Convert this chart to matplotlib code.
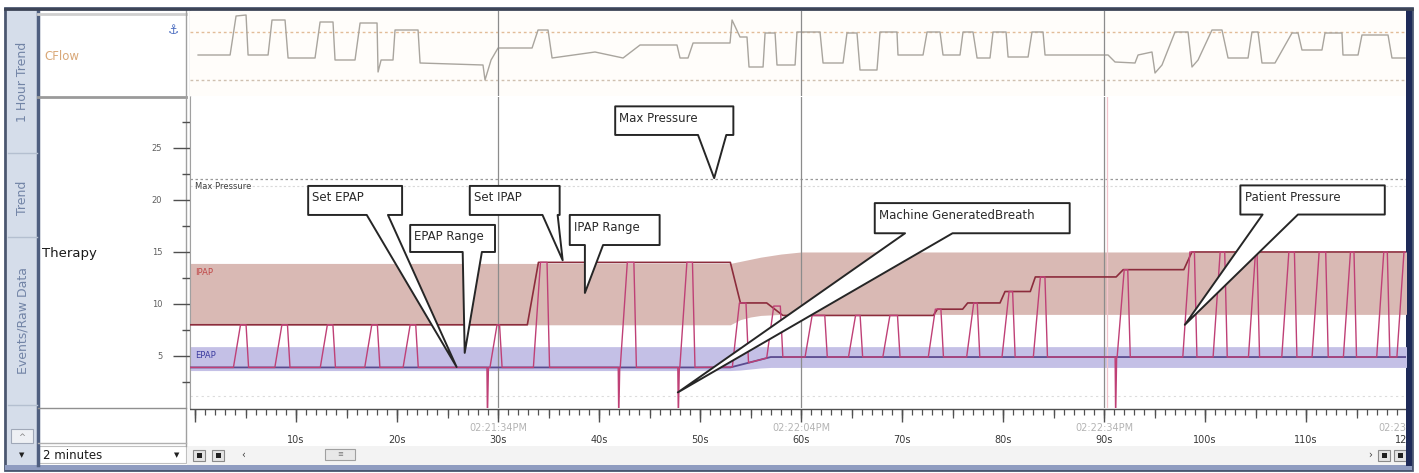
import numpy as np
import matplotlib
matplotlib.use('Agg')
import matplotlib.pyplot as plt
from matplotlib.patches import Rectangle, Polygon

plt.rcParams['font.family'] = ['DejaVu Sans']

W, H = 1419, 473
T_MIN, T_MAX = -0.5, 119.9

# CFlow trace (time s, flow arbitrary units)
flow_t = [0.3, 3.47, 4.06, 5.05, 5.25, 7.23, 7.62, 8.91, 9.21, 11.88,
          12.38, 13.66, 13.86, 15.84, 16.34, 18.02, 18.12, 18.42, 19.60, 19.80,
          22.08, 22.28, 28.51, 28.71, 29.31, 30.0, 33.37, 33.96, 34.95, 35.35,
          39.60, 42.38, 44.06, 47.72, 48.02, 48.81, 49.31, 52.97, 53.17, 53.96,
          54.65, 54.85, 56.24, 56.44, 57.43, 57.62, 59.41, 59.60, 61.88, 62.18,
          64.16, 64.55, 65.54, 65.84, 67.52, 67.82, 69.50, 69.60, 72.08, 72.48,
          73.76, 74.06, 75.74, 76.04, 77.03, 77.43, 78.71, 79.01, 80.30, 80.50,
          82.48, 82.87, 83.96, 84.16, 90.40, 91.09, 93.07, 93.37, 94.75, 95.05,
          95.74, 97.03, 98.32, 98.71, 99.31, 100.69, 101.68, 102.28, 104.26, 104.65,
          105.25, 105.64, 106.93, 108.61, 109.21, 109.60, 111.58, 111.88, 113.56, 113.66,
          115.15, 115.54, 118.12, 118.51, 119.80]
flow_v = [1, 1, 40, 41, 1, 1, 36, 36, -2, -2,
          34, 34, -4, -4, 33, 33, -16, -4, -4, 26,
          26, -7, -9, -24, -4, 8, 8, 26, 26, -2,
          4, -2, 11, 11, -2, -2, 13, 13, 36, 19,
          19, -11, -11, 23, 23, -9, -9, 24, 24, -7,
          -7, 23, 23, -14, -14, 24, 24, 1, 1, 24,
          24, 1, 1, 24, 24, -2, -2, 24, 24, -1,
          -1, 24, 24, 1, 1, -6, -7, 1, 4, -17,
          -9, 24, 24, -11, -4, 26, 26, -2, -2, 24,
          24, -7, -7, 23, 23, 6, 6, 23, 23, 1,
          1, 21, 21, -2, -2]

# therapy settings (cmH2O)
ipap_set_t = [-0.5, 32.9, 34.0, 53.0, 54.0, 56.6, 58.2, 73.1, 73.5, 76.0,
              76.5, 79.7, 80.2, 82.7, 83.2, 91.2, 91.9, 97.9, 98.7, 120.0]
ipap_set_v = [8.0, 8.0, 14.0, 14.0, 10.1, 10.1, 8.9, 8.9, 9.5, 9.5,
              10.1, 10.1, 11.2, 11.2, 12.6, 12.6, 13.3, 13.3, 15.0, 15.0]
epap_set_t = [-0.5, 53.0, 57.0, 120.0]
epap_set_v = [3.9, 3.9, 4.9, 4.9]

band_t = [-0.5, 53, 54, 55, 56, 57, 58, 59, 60, 120]
ipap_hi = [13.9, 13.9, 14.1, 14.3, 14.5, 14.65, 14.8, 14.9, 15.0, 15.0]
ipap_lo = [8.0, 8.0, 8.5, 8.75, 8.9, 8.95, 9.0, 9.0, 9.0, 9.0]
epap_hi = [5.9, 5.9, 5.9, 5.9, 5.9, 5.9, 5.9, 5.9, 5.9, 5.9]
epap_lo = [3.6, 3.6, 3.65, 3.75, 3.85, 3.9, 3.9, 3.9, 3.9, 3.9]

max_pressure = 22.0

# patient breaths: start, end, peak pressure
breath_on = [3.8, 7.9, 12.4, 16.8, 20.6, 29.2, 33.5, 42.1, 48.0, 53.2,
             56.6, 60.4, 64.7, 68.1, 72.6, 76.4, 79.9, 83.0, 91.3, 97.8,
             100.8, 104.3, 107.6, 110.6, 113.7, 117.0, 119.0]
breath_off = [5.3, 9.4, 13.9, 18.3, 22.1, 30.4, 35.1, 43.7, 49.5, 54.8,
              58.2, 62.6, 66.1, 69.8, 74.1, 77.7, 81.2, 84.4, 92.6, 99.2,
              102.2, 105.4, 109.1, 112.2, 115.0, 118.3, 121.0]
breath_peak = [8, 8, 8, 8, 8, 8, 14, 14, 14, 10.1,
               9.8, 8.9, 8.9, 8.9, 9.5, 10.1, 11.2, 12.6, 13.3, 15,
               15, 15, 15, 15, 15, 15, 15]
# machine generated breaths show a drop below the scale
spike_t = [28.9, 41.9, 47.8, 91.1]
SPIKE_FLOOR = -1.0
RISE_S, FALL_S = 0.7, 0.25

time_labels = [10, 20, 30, 40, 50, 60, 70, 80, 90, 100, 110, 120]
stamp_t = [30, 60, 90, 120]
stamp_text = ['02:21:34PM', '02:22:04PM', '02:22:34PM', '02:23:04PM']

callouts = [
    ("Max Pressure", (41.6, 53.3, 29.0, 26.25), (49.8, 52.6), (51.4, 22.1)),
    ("Set EPAP", (11.2, 20.5, 21.35, 18.56), (17.0, 19.1), (25.9, 3.94)),
    ("EPAP Range", (21.3, 29.7, 17.6, 15.0), (26.5, 28.4), (26.7, 5.3)),
    ("Set IPAP", (27.2, 36.1, 21.35, 18.56), (34.4, 35.9), (36.4, 14.2)),
    ("IPAP Range", (37.1, 46.0, 18.56, 15.67), (38.6, 40.4), (38.6, 11.06)),
    ("Machine GeneratedBreath", (67.3, 86.6, 19.7, 16.8), (70.3, 75.0), (47.8, 1.5)),
    ("Patient Pressure", (103.5, 117.8, 21.4, 18.6), (105.7, 109.2), (98.0, 8.0)),
]


def px_rect(x0, y0, x1, y1):
    return [x0 / W, 1 - y1 / H, (x1 - x0) / W, (y1 - y0) / H]


def epap_at(t):
    return float(np.interp(t, epap_set_t, epap_set_v))


def build_pressure_trace():
    events = [(s, None, None) for s in spike_t]
    events += list(zip(breath_on, breath_off, breath_peak))
    events.sort(key=lambda e: e[0])
    tt, vv = [T_MIN], [epap_at(T_MIN)]
    for on, off, pk in events:
        if off is None:
            tt += [on, on + 0.05, on + 0.15]
            vv += [epap_at(on), SPIKE_FLOOR, epap_at(on)]
        else:
            tt += [on, on + RISE_S, off - FALL_S, off]
            vv += [epap_at(on), pk, pk, epap_at(off)]
    return tt, vv


def callout(ax, text, box, base, tip):
    left, right, top, bottom = box
    verts = [(left, top), (right, top), (right, bottom), (base[1], bottom),
             tip, (base[0], bottom), (left, bottom)]
    ax.add_patch(Polygon(verts, closed=True, fc='white', ec='#262626',
                         lw=1.4, zorder=6, joinstyle='round'))
    ax.annotate(text, (left, top), xytext=(3, -4), textcoords='offset points',
                ha='left', va='top', fontsize=8.5, color='#2a2a2a', zorder=7)


fig = plt.figure(figsize=(W / 100, H / 100), dpi=100)

# window chrome
bg = fig.add_axes([0, 0, 1, 1])
bg.set_xlim(0, W)
bg.set_ylim(H, 0)
bg.axis('off')
bg.add_patch(Rectangle((5, 8), 1407, 462, fc='white', ec='#4a5670', lw=2))
bg.add_patch(Rectangle((7, 10), 31, 455, fc='#d5ddea', ec='none'))
bg.plot([38, 38], [10, 465], color='#4f5f80', lw=2.5)
for yy in [153, 237, 405]:
    bg.plot([8, 37], [yy, yy], color='#b4bfd0', lw=1)
bg.text(23, 82, '1 Hour Trend', rotation=90, ha='center', va='center', fontsize=9, color='#7284a6')
bg.text(23, 198, 'Trend', rotation=90, ha='center', va='center', fontsize=9, color='#7284a6')
bg.text(23, 320, 'Events/Raw Data', rotation=90, ha='center', va='center', fontsize=9, color='#7284a6')
bg.add_patch(Rectangle((11, 429), 22, 14, fc='#eef0f4', ec='#a0a8b8', lw=0.8))
bg.text(22, 437, '^', ha='center', va='center', fontsize=6, color='#808080')
bg.text(22, 455, '▼', ha='center', va='center', fontsize=5, color='#202020')

bg.plot([38, 186], [14, 14], color='#cfcfcf', lw=2)
bg.plot([38, 186], [97, 97], color='#9a9a9a', lw=2)
bg.plot([186, 186], [10, 446], color='#a0a0a0', lw=1)
bg.plot([190, 190], [10, 408], color='#c8c8c8', lw=1)
bg.plot([38, 186], [408, 408], color='#909090', lw=1)
bg.plot([38, 186], [443, 443], color='#b0b0b0', lw=1)
bg.text(44, 57, 'CFlow', ha='left', va='center', fontsize=8.5, color='#d9a878')
bg.text(173, 30, '⚓', ha='center', va='center', fontsize=9, color='#4a6cc0')
bg.text(42, 253, 'Therapy', ha='left', va='center', fontsize=9.5, color='#1a1a1a')
bg.add_patch(Rectangle((39, 446), 147, 17, fc='white', ec='#c0c0c0', lw=0.8))
bg.text(43, 455, '2 minutes', ha='left', va='center', fontsize=8.5, color='#1a1a1a')
bg.text(177, 455, '▼', ha='center', va='center', fontsize=5, color='#202020')

bg.add_patch(Rectangle((187, 446), 1219, 19, fc='#f3f3f3', ec='none'))
for bx in [193, 212, 1378, 1394]:
    bg.add_patch(Rectangle((bx, 450), 12, 11, fc='#e4e4e4', ec='#8a8a8a', lw=0.8))
    bg.add_patch(Rectangle((bx + 3.5, 453), 5, 5, fc='#202020', ec='none'))
bg.text(243, 455, '‹', ha='center', va='center', fontsize=7, color='#404040')
bg.text(1370, 455, '›', ha='center', va='center', fontsize=7, color='#404040')
bg.add_patch(Rectangle((325, 449), 30, 11, fc='#e8e8e8', ec='#a0a0a0', lw=0.8))
bg.text(340, 454.5, '≡', ha='center', va='center', fontsize=5, color='#707070')
bg.add_patch(Rectangle((5, 465), 1407, 5, fc='#8f9cc0', ec='none'))
bg.add_patch(Rectangle((1406, 10), 6, 456, fc='#1e2a58', ec='none'))
bg.plot([5, 1412], [9, 9], color='#3c4456', lw=2)

# CFlow strip
ax_f = fig.add_axes(px_rect(190, 11, 1406, 96))
ax_f.set_facecolor('#fffdfa')
ax_f.set_xlim(T_MIN, T_MAX)
ax_f.set_ylim(-40, 45)
ax_f.axhline(24, color='#e2bc98', ls=(0, (2, 2)), lw=1)
ax_f.axhline(-24, color='#cfc0b0', ls=(0, (2, 2)), lw=1)
ax_f.plot(flow_t, flow_v, color='#a9a59e', lw=1.0)
for s in ['top', 'right', 'bottom', 'left']:
    ax_f.spines[s].set_visible(False)
ax_f.set_xticks([])
ax_f.set_yticks([])

# therapy panel
ax = fig.add_axes(px_rect(190, 97, 1406, 408))
ax.set_xlim(T_MIN, T_MAX)
ax.set_ylim(0, 29.9)
ax.fill_between(band_t, ipap_lo, ipap_hi, color='#d9b9b4', lw=0, zorder=1)
ax.fill_between(band_t, epap_lo, epap_hi, color='#c4c0e6', lw=0, zorder=1)
ax.axhline(max_pressure, color='#9a9a9a', ls=(0, (2, 2)), lw=0.9, zorder=2)
ax.axhline(max_pressure - 0.7, color='#dadada', ls=(0, (2, 2)), lw=0.8, zorder=2)
ax.axhline(1.2, color='#dcdcdc', ls=(0, (2, 3)), lw=0.8, zorder=2)
ax.plot(epap_set_t, epap_set_v, color='#5b4b8f', lw=1.3, zorder=3)
ax.plot(ipap_set_t, ipap_set_v, color='#8c2c3c', lw=1.2, zorder=3)
tr_t, tr_v = build_pressure_trace()
ax.plot(tr_t, tr_v, color='#bf4076', lw=1.0, zorder=4)
ax.text(0.0, max_pressure - 0.3, 'Max Pressure', ha='left', va='top', fontsize=6, color='#404040')
ax.text(0.0, ipap_hi[0] - 0.4, 'IPAP', ha='left', va='top', fontsize=6, color='#c04848', zorder=5)
ax.text(0.0, epap_hi[0] - 0.4, 'EPAP', ha='left', va='top', fontsize=6, color='#3c3ca0', zorder=5)
for name, box, base, tip in callouts:
    callout(ax, name, box, base, tip)

for a in (ax_f, ax):
    for t in [30, 60, 90]:
        a.axvline(t, color='#8c8c8c', lw=0.9, zorder=2)
ax.axvline(90.3, color='#f2c4cc', lw=0.9, zorder=2)

for s in ['top', 'right', 'bottom']:
    ax.spines[s].set_visible(False)
ax.spines['left'].set_color('#a0a0a0')
ax.set_xticks([])
ax.set_yticks([5, 10, 15, 20, 25])
ax.set_yticks([2.5, 7.5, 12.5, 17.5, 22.5, 27.5], minor=True)
ax.tick_params(axis='y', which='major', length=12, width=1, color='#505050',
               pad=8, labelsize=6, labelcolor='#606060')
ax.tick_params(axis='y', which='minor', length=6, width=1, color='#505050')

# time ruler
ax_t = fig.add_axes(px_rect(190, 408, 1406, 446))
ax_t.set_xlim(T_MIN, T_MAX)
ax_t.set_ylim(446, 408)
ax_t.axis('off')
ax_t.axhline(408.7, color='#505050', lw=1)
sec = np.arange(0, 121)
ax_t.vlines(sec, 408.5, 415, color='#505050', lw=0.9)
ax_t.vlines(sec[::5], 408.5, 418, color='#505050', lw=0.9)
ax_t.vlines(sec[::10], 408.5, 422, color='#505050', lw=1.0)
for t in time_labels:
    ax_t.text(t, 440, f'{t}s', ha='center', va='center', fontsize=7, color='#3a3a3a', clip_on=True)
for t, s in zip(stamp_t, stamp_text):
    ax_t.text(t, 428, s, ha='center', va='center', fontsize=7, color='#b4b4b4', clip_on=True)

fig.savefig('out.png', dpi=100)
